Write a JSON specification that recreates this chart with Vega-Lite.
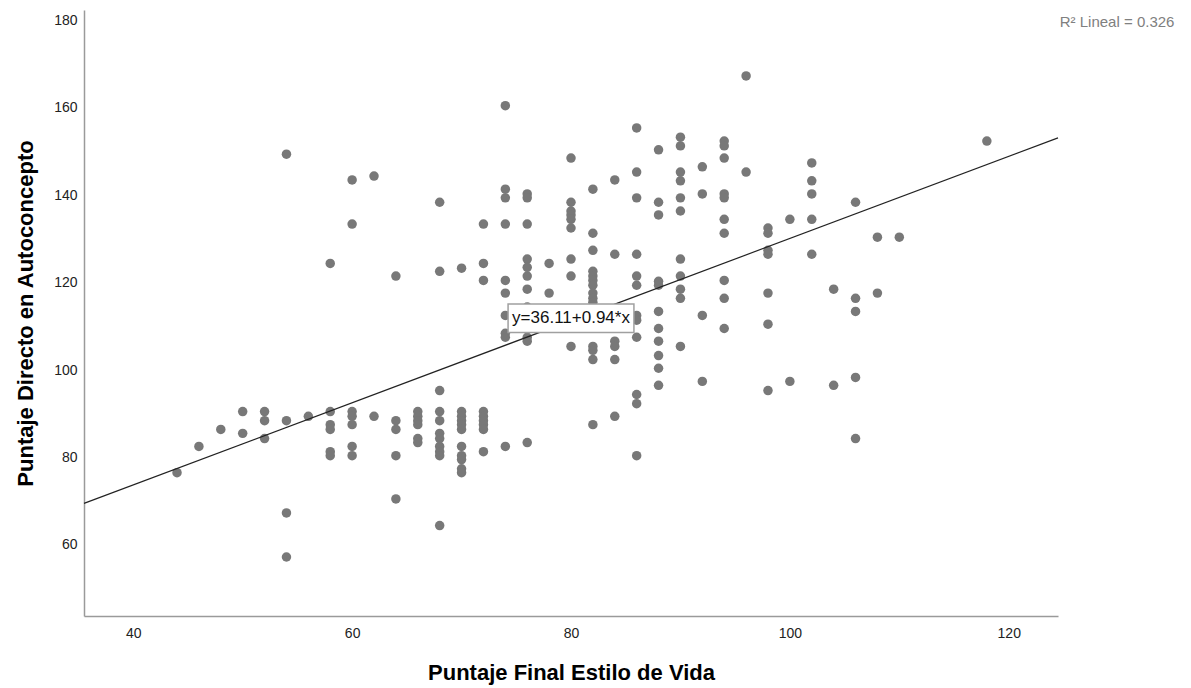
{
  "$schema": "https://vega.github.io/schema/vega-lite/v6.json",
  "width": 974,
  "height": 606,
  "autosize": {"type": "none"},
  "padding": {"left": 84, "top": 10, "right": 133, "bottom": 72},
  "background": "white",
  "config": {
    "view": {"stroke": null},
    "font": "Liberation Sans",
    "axis": {
      "grid": false,
      "ticks": false,
      "tickSize": 0,
      "domainColor": "#9a9a9a",
      "domainWidth": 1.5,
      "labelColor": "#222222",
      "labelFontSize": 14,
      "labelFont": "Liberation Sans",
      "titleFont": "Liberation Sans",
      "titleFontSize": 22,
      "titleFontWeight": "bold",
      "titleColor": "#000000"
    }
  },
  "datasets": {
    "pts": [
      {"x":44,"y":76.5},{"x":46,"y":82.5},{"x":48,"y":86.4},
      {"x":50,"y":90.5},{"x":50,"y":85.5},
      {"x":52,"y":90.5},{"x":52,"y":88.4},{"x":52,"y":84.3},
      {"x":54,"y":149.4},{"x":54,"y":88.4},{"x":54,"y":67.3},{"x":54,"y":57.2},
      {"x":56,"y":89.4},
      {"x":58,"y":124.4},{"x":58,"y":90.5},{"x":58,"y":87.5},{"x":58,"y":86.4},{"x":58,"y":81.3},{"x":58,"y":80.4},
      {"x":60,"y":143.5},{"x":60,"y":133.4},{"x":60,"y":90.5},{"x":60,"y":89.4},{"x":60,"y":87.5},{"x":60,"y":82.5},{"x":60,"y":80.4},
      {"x":62,"y":144.4},{"x":62,"y":89.4},
      {"x":64,"y":121.5},{"x":64,"y":88.4},{"x":64,"y":86.4},{"x":64,"y":80.4},{"x":64,"y":70.5},
      {"x":66,"y":90.5},{"x":66,"y":89.4},{"x":66,"y":88.4},{"x":66,"y":87.5},{"x":66,"y":84.3},{"x":66,"y":83.4},
      {"x":68,"y":138.4},{"x":68,"y":122.6},{"x":68,"y":95.3},{"x":68,"y":90.5},{"x":68,"y":88.4},{"x":68,"y":85.5},{"x":68,"y":84.3},{"x":68,"y":82.5},{"x":68,"y":81.3},{"x":68,"y":80.4},{"x":68,"y":64.4},
      {"x":70,"y":123.3},{"x":70,"y":90.5},{"x":70,"y":89.4},{"x":70,"y":88.4},{"x":70,"y":87.5},{"x":70,"y":86.4},{"x":70,"y":82.5},{"x":70,"y":80.4},{"x":70,"y":79.5},{"x":70,"y":77.4},{"x":70,"y":76.5},
      {"x":72,"y":133.4},{"x":72,"y":124.4},{"x":72,"y":120.5},{"x":72,"y":90.5},{"x":72,"y":89.4},{"x":72,"y":88.4},{"x":72,"y":87.5},{"x":72,"y":86.4},{"x":72,"y":81.3},
      {"x":74,"y":160.5},{"x":74,"y":141.4},{"x":74,"y":139.4},{"x":74,"y":133.4},{"x":74,"y":120.5},{"x":74,"y":117.6},{"x":74,"y":112.5},{"x":74,"y":108.4},{"x":74,"y":107.5},{"x":74,"y":82.5},
      {"x":76,"y":140.3},{"x":76,"y":139.4},{"x":76,"y":133.4},{"x":76,"y":125.4},{"x":76,"y":123.5},{"x":76,"y":121.5},{"x":76,"y":118.5},{"x":76,"y":114.4},{"x":76,"y":110.5},{"x":76,"y":107.5},{"x":76,"y":106.6},{"x":76,"y":83.4},
      {"x":78,"y":124.4},{"x":78,"y":117.6},
      {"x":80,"y":148.5},{"x":80,"y":138.4},{"x":80,"y":136.4},{"x":80,"y":135.5},{"x":80,"y":134.5},{"x":80,"y":132.5},{"x":80,"y":125.4},{"x":80,"y":121.5},{"x":80,"y":105.4},
      {"x":82,"y":141.4},{"x":82,"y":131.3},{"x":82,"y":127.4},{"x":82,"y":122.6},{"x":82,"y":121.5},{"x":82,"y":120.5},{"x":82,"y":119.4},{"x":82,"y":117.6},{"x":82,"y":116.4},{"x":82,"y":115.5},{"x":82,"y":105.4},{"x":82,"y":104.5},{"x":82,"y":102.4},{"x":82,"y":87.5},
      {"x":84,"y":143.5},{"x":84,"y":126.5},{"x":84,"y":106.6},{"x":84,"y":105.4},{"x":84,"y":102.4},{"x":84,"y":89.4},
      {"x":86,"y":155.4},{"x":86,"y":145.3},{"x":86,"y":139.4},{"x":86,"y":126.5},{"x":86,"y":121.5},{"x":86,"y":119.4},{"x":86,"y":112.5},{"x":86,"y":111.4},{"x":86,"y":107.5},{"x":86,"y":94.4},{"x":86,"y":92.3},{"x":86,"y":80.4},
      {"x":88,"y":150.4},{"x":88,"y":138.4},{"x":88,"y":135.5},{"x":88,"y":120.3},{"x":88,"y":119.4},{"x":88,"y":113.4},{"x":88,"y":109.5},{"x":88,"y":106.6},{"x":88,"y":103.3},{"x":88,"y":100.4},{"x":88,"y":96.5},
      {"x":90,"y":153.3},{"x":90,"y":151.3},{"x":90,"y":145.3},{"x":90,"y":143.3},{"x":90,"y":139.4},{"x":90,"y":136.4},{"x":90,"y":125.4},{"x":90,"y":121.5},{"x":90,"y":118.5},{"x":90,"y":116.4},{"x":90,"y":105.4},
      {"x":92,"y":146.5},{"x":92,"y":140.3},{"x":92,"y":112.5},{"x":92,"y":97.4},
      {"x":94,"y":152.4},{"x":94,"y":151.3},{"x":94,"y":148.5},{"x":94,"y":140.3},{"x":94,"y":139.4},{"x":94,"y":134.5},{"x":94,"y":131.3},{"x":94,"y":120.5},{"x":94,"y":116.4},{"x":94,"y":109.5},
      {"x":96,"y":167.3},{"x":96,"y":145.3},
      {"x":98,"y":132.5},{"x":98,"y":131.3},{"x":98,"y":127.4},{"x":98,"y":126.5},{"x":98,"y":117.6},{"x":98,"y":110.5},{"x":98,"y":95.3},
      {"x":100,"y":134.5},{"x":100,"y":97.4},
      {"x":102,"y":147.4},{"x":102,"y":143.3},{"x":102,"y":140.3},{"x":102,"y":134.5},{"x":102,"y":126.5},
      {"x":104,"y":118.5},{"x":104,"y":96.5},
      {"x":106,"y":138.4},{"x":106,"y":116.4},{"x":106,"y":113.4},{"x":106,"y":98.3},{"x":106,"y":84.3},
      {"x":108,"y":130.4},{"x":108,"y":117.6},
      {"x":110,"y":130.4},
      {"x":118,"y":152.4}
    ],
    "fit": [
      {"x": 35.5, "y": 69.48},
      {"x": 124.5, "y": 153.14}
    ],
    "eqbox": [
      {"x1": 74.25, "x2": 85.75, "y1": 108.6, "y2": 115.1, "xc": 80, "yc": 111.85, "label": "y=36.11+0.94*x"}
    ],
    "r2": [
      {"x": 129.9, "y": 179.6, "label": "R² Lineal = 0.326"}
    ]
  },
  "layer": [
    {
      "data": {"name": "pts"},
      "mark": {"type": "circle", "size": 90, "color": "#787878", "opacity": 1},
      "encoding": {
        "x": {
          "field": "x", "type": "quantitative",
          "scale": {"domain": [35.5, 124.5], "nice": false, "zero": false},
          "axis": {"values": [40, 60, 80, 100, 120], "title": "Puntaje Final Estilo de Vida", "labelPadding": 10, "titlePadding": 22}
        },
        "y": {
          "field": "y", "type": "quantitative",
          "scale": {"domain": [43.7, 182.4], "nice": false, "zero": false},
          "axis": {"values": [60, 80, 100, 120, 140, 160, 180], "title": "Puntaje Directo en Autoconcepto", "labelPadding": 7, "titlePadding": 16}
        }
      }
    },
    {
      "data": {"name": "fit"},
      "mark": {"type": "line", "color": "#222222", "strokeWidth": 1.2},
      "encoding": {
        "x": {"field": "x", "type": "quantitative"},
        "y": {"field": "y", "type": "quantitative"}
      }
    },
    {
      "data": {"name": "eqbox"},
      "mark": {"type": "rect", "fill": "white", "stroke": "#a0a0a0", "strokeWidth": 1.5},
      "encoding": {
        "x": {"field": "x1", "type": "quantitative"},
        "x2": {"field": "x2"},
        "y": {"field": "y1", "type": "quantitative"},
        "y2": {"field": "y2"}
      }
    },
    {
      "data": {"name": "eqbox"},
      "mark": {"type": "text", "fontSize": 17, "color": "#111111", "align": "center", "baseline": "middle", "font": "Liberation Sans"},
      "encoding": {
        "x": {"field": "xc", "type": "quantitative"},
        "y": {"field": "yc", "type": "quantitative"},
        "text": {"field": "label"}
      }
    },
    {
      "data": {"name": "r2"},
      "mark": {"type": "text", "fontSize": 15, "color": "#808080", "align": "center", "baseline": "middle", "font": "Liberation Sans", "clip": false},
      "encoding": {
        "x": {"field": "x", "type": "quantitative"},
        "y": {"field": "y", "type": "quantitative"},
        "text": {"field": "label"}
      }
    }
  ]
}
